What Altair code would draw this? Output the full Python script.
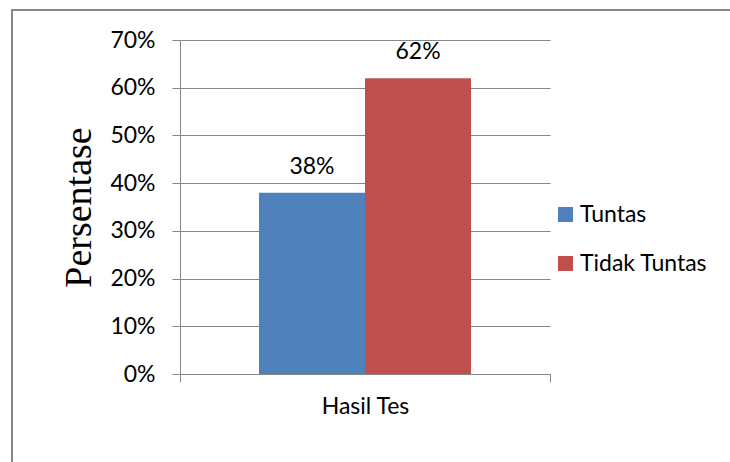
import altair as alt
import pandas as pd

categories = ["Hasil Tes"]
series = ["Tuntas", "Tidak Tuntas"]
values = [0.38, 0.62]
colors = ["#4F81BD", "#C0504D"]
y_ticks = [0, 0.1, 0.2, 0.3, 0.4, 0.5, 0.6, 0.7]

df = pd.DataFrame({
    "kategori": [categories[0]] * len(series),
    "seri": series,
    "nilai": values,
})

W, H = 370, 334
font = "Lato"
fs = 23
gray = "#868686"

x = alt.X(
    "kategori:N", title=None,
    scale=alt.Scale(paddingInner=0, paddingOuter=0),
    axis=alt.Axis(labelAngle=0, tickBand="extent", tickSize=8, tickColor=gray,
                  domainColor=gray, labelFont=font, labelFontSize=fs,
                  labelColor="black", labelPadding=13, grid=False),
)
xo = alt.XOffset("seri:N", sort=series,
                 scale=alt.Scale(paddingInner=0, paddingOuter=0.745))
y = alt.Y(
    "nilai:Q",
    scale=alt.Scale(domain=[0, 0.7]),
    axis=alt.Axis(values=y_ticks, format=".0%", title="Persentase",
                  titleFont="Liberation Serif", titleFontSize=38,
                  titleFontWeight="normal", titleColor="black", titlePadding=11,
                  tickSize=8, tickColor=gray, domainColor=gray,
                  labelFont=font, labelFontSize=fs, labelColor="black",
                  labelPadding=17, grid=True, gridColor=gray, gridWidth=1),
)
color = alt.Color(
    "seri:N", sort=series,
    scale=alt.Scale(domain=series, range=colors),
    legend=alt.Legend(title=None, orient="none", legendX=374, legendY=163,
                      symbolType="square", symbolSize=225, symbolStrokeWidth=0,
                      symbolOpacity=1, labelFont=font, labelFontSize=fs,
                      labelColor="black", rowPadding=25, labelOffset=3,
                      labelExpr="datum.value === 'Tuntas' ? '\\u2007\\u2007Tuntas' : datum.label"),
)

frame = alt.Chart(alt.Data(values=[{}])).mark_rect(
    fill="white", fillOpacity=0, stroke=gray, strokeWidth=2
).encode(x=alt.value(-168), x2=alt.value(W + 300),
         y=alt.value(-30), y2=alt.value(H + 200))

bars = alt.Chart(df).mark_bar().encode(x=x, xOffset=xo, y=y, color=color)

labels = alt.Chart(df).mark_text(
    font=font, fontSize=fs, baseline="alphabetic", dy=-19, color="black"
).encode(x=x, xOffset=xo, y=y, text=alt.Text("nilai:Q", format=".0%"))

chart = alt.layer(frame, bars, labels).properties(
    width=W, height=H,
    autosize=alt.AutoSizeParams(type="none"),
    padding={"left": 180, "top": 40, "right": 180, "bottom": 88},
    background="white",
).configure_view(stroke=None)

chart.save("out.html", embed_options={"renderer": "svg", "actions": False})
